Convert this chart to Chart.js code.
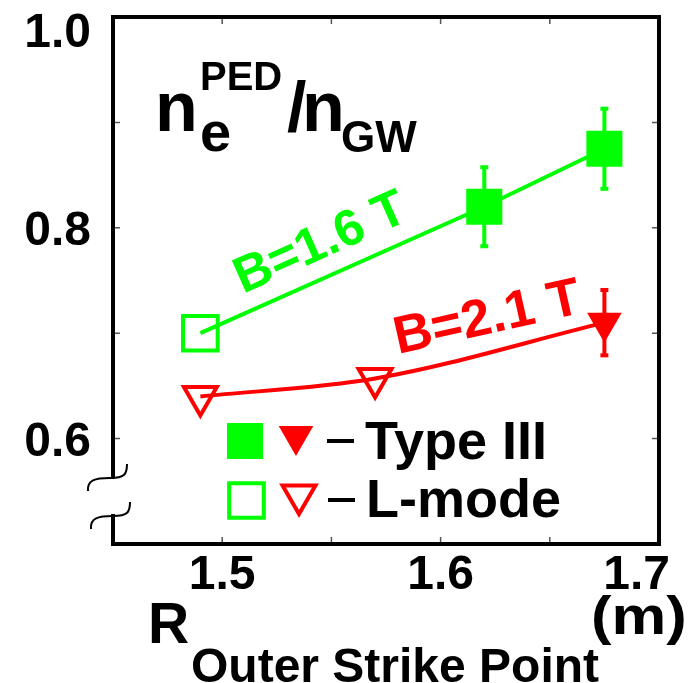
<!DOCTYPE html>
<html>
<head>
<meta charset="utf-8">
<title>Pedestal density vs outer strike point</title>
<script src="https://cdn.jsdelivr.net/npm/chart.js@4.4.0/dist/chart.umd.min.js"></script>
<style>
  html, body { margin: 0; padding: 0; background: #fff; }
  #wrap { width: 690px; height: 683px; }
</style>
</head>
<body>
<div id="wrap"><canvas id="myChart" width="690" height="683"></canvas></div>
<script>
'use strict';

// outer strike point radius (m) and pedestal density / Greenwald density
let greenTypeIIIR = [1.62, 1.675];
let greenTypeIIIN = [0.82, 0.875];
let greenTypeIIIErr = [0.0375, 0.038];
let greenLmodeR = [1.49];
let greenLmodeN = [0.70];

let redTypeIIIR = [1.675];
let redTypeIIIN = [0.71];
let redTypeIIIErr = [0.031];
let redLmodeR = [1.49, 1.57];
let redLmodeN = [0.640, 0.657];

let xTickMarks = [1.5, 1.55, 1.6, 1.65];
let xTickLabels = [1.5, 1.6, 1.7];
let yTickMarks = [0.6, 0.7, 0.8, 0.9];
let yTickLabels = [0.6, 0.8, 1.0];

let green = '#00ff00';
let red = '#ff0000';
let family = '"Liberation Sans", Arial, Helvetica, sans-serif';

function bold(size) {
    return 'bold ' + size + 'px ' + family;
}

function toPoints(xs, ys) {
    let pts = [];
    for (let i = 0; i < xs.length; i++) {
        pts.push({x: xs[i], y: ys[i]});
    }
    return pts;
}

function drawErrors(ctx, sx, sy, xs, ys, errs, color) {
    ctx.save();
    ctx.strokeStyle = color;
    ctx.fillStyle = color;
    ctx.lineWidth = 4;
    for (let i = 0; i < xs.length; i++) {
        let px = sx.getPixelForValue(xs[i]);
        let top = sy.getPixelForValue(ys[i] + errs[i]);
        let bot = sy.getPixelForValue(ys[i] - errs[i]);
        ctx.beginPath();
        ctx.moveTo(px, top);
        ctx.lineTo(px, bot);
        ctx.stroke();
        ctx.fillRect(px - 4, top - 2, 8, 4);
        ctx.fillRect(px - 4, bot - 2, 8, 4);
    }
    ctx.restore();
}

function legendMark(ctx, style, rotation, radius, x, y, color, filled) {
    ctx.save();
    ctx.fillStyle = filled ? color : 'rgba(0,0,0,0)';
    ctx.strokeStyle = color;
    ctx.lineWidth = filled ? 0 : 4;
    Chart.helpers.drawPoint(ctx, {
        pointStyle: style, rotation: rotation, radius: radius,
        borderWidth: filled ? 0 : 4
    }, x, y);
    ctx.restore();
}

let decorPlugin = {
    id: 'decor',
    beforeDatasetsDraw(chart) {
        let ctx = chart.ctx;
        drawErrors(ctx, chart.scales.x, chart.scales.y, greenTypeIIIR, greenTypeIIIN, greenTypeIIIErr, green);
        drawErrors(ctx, chart.scales.x, chart.scales.y, redTypeIIIR, redTypeIIIN, redTypeIIIErr, red);
    },
    afterDraw(chart) {
        let ctx = chart.ctx;
        let a = chart.chartArea;
        let sx = chart.scales.x;
        let sy = chart.scales.y;
        ctx.save();

        // frame
        ctx.strokeStyle = '#000';
        ctx.lineWidth = 4;
        ctx.strokeRect(a.left, a.top, a.right - a.left, a.bottom - a.top);

        // inward ticks
        ctx.strokeStyle = '#555';
        ctx.lineWidth = 1.5;
        ctx.beginPath();
        xTickMarks.forEach(v => {
            let px = sx.getPixelForValue(v);
            ctx.moveTo(px, a.bottom - 2); ctx.lineTo(px, a.bottom - 7);
            ctx.moveTo(px, a.top + 2); ctx.lineTo(px, a.top + 7);
        });
        yTickMarks.forEach(v => {
            let py = sy.getPixelForValue(v);
            ctx.moveTo(a.left + 2, py); ctx.lineTo(a.left + 7, py);
            ctx.moveTo(a.right - 2, py); ctx.lineTo(a.right - 7, py);
        });
        ctx.stroke();

        // axis break on the y axis
        ctx.fillStyle = '#fff';
        ctx.fillRect(a.left - 4, 479, 8, 35);
        ctx.strokeStyle = '#000';
        ctx.lineWidth = 2;
        [[0, 0], [3, 38]].forEach(o => {
            let dx = o[0], dy = o[1];
            ctx.beginPath();
            ctx.moveTo(88 + dx, 491 + dy);
            ctx.bezierCurveTo(87 + dx, 480 + dy, 95 + dx, 478 + dy, 110 + dx, 478 + dy);
            ctx.bezierCurveTo(125 + dx, 478 + dy, 127 + dx, 474 + dy, 127 + dx, 464 + dy);
            ctx.stroke();
        });

        // tick labels
        ctx.fillStyle = '#000';
        ctx.font = bold(48);
        ctx.textBaseline = 'alphabetic';
        ctx.textAlign = 'center';
        xTickLabels.forEach(v => {
            let txt = v.toFixed(1);
            let w = ctx.measureText(txt).width;
            let px = Math.min(sx.getPixelForValue(v), chart.width - 20 - w / 2);
            ctx.fillText(txt, px, 589);
        });
        ctx.textAlign = 'right';
        yTickLabels.forEach(v => {
            let py = Math.max(sy.getPixelForValue(v), a.top + 13);
            ctx.fillText(v.toFixed(1), 91, py + 17);
        });

        // x axis title
        ctx.textAlign = 'left';
        ctx.font = bold(57);
        ctx.fillText('R', 148, 643);
        ctx.font = bold(48);
        ctx.fillText('Outer Strike Point', 191, 682);
        ctx.save();
        ctx.font = bold(57);
        ctx.translate(591, 634);
        ctx.scale(1.08, 0.95);
        ctx.fillText('(m)', 0, 0);
        ctx.restore();

        // quantity label inside the plot
        ctx.font = bold(70);
        ctx.fillText('n', 155, 131);
        ctx.font = bold(56);
        ctx.fillText('e', 200, 151);
        ctx.font = bold(40);
        ctx.fillText('PED', 200, 90);
        ctx.font = bold(70);
        ctx.fillText('/', 287, 131);
        ctx.fillText('n', 302, 131);
        ctx.font = bold(44);
        ctx.fillText('GW', 341, 152);

        // field labels along the curves
        ctx.save();
        ctx.fillStyle = green;
        ctx.font = bold(51);
        ctx.translate(243, 294);
        ctx.rotate(-24 * Math.PI / 180);
        ctx.fillText('B=1.6 T', 0, 0);
        ctx.restore();

        ctx.save();
        ctx.fillStyle = red;
        ctx.font = bold(53);
        ctx.translate(398, 354);
        ctx.rotate(-12.6 * Math.PI / 180);
        ctx.fillText('B=2.1 T', 0, 0);
        ctx.restore();

        // legend
        legendMark(ctx, 'rect', 0, 25.5, 245, 441, green, true);
        legendMark(ctx, 'triangle', 180, 20, 296, 436, red, true);
        legendMark(ctx, 'rect', 0, 24.5, 246.5, 500.5, green, false);
        legendMark(ctx, 'triangle', 180, 19, 299, 495, red, false);
        ctx.fillStyle = '#000';
        ctx.fillRect(327, 439, 27, 4);
        ctx.fillRect(328, 498, 27, 4);
        ctx.font = bold(54);
        ctx.fillText('Type III', 365, 459);
        ctx.fillText('L-mode', 366, 517);

        ctx.restore();
    }
};

let ctx = document.getElementById('myChart').getContext('2d');

let myChart = new Chart(ctx, {
    type: 'scatter',
    data: {
        datasets: [{
            label: 'B=1.6 T Type III',
            data: toPoints(greenTypeIIIR, greenTypeIIIN),
            pointStyle: 'rect',
            pointRadius: 25.5,
            backgroundColor: green,
            borderColor: green,
            borderWidth: 0,
            order: 1
        }, {
            label: 'B=1.6 T L-mode',
            data: toPoints(greenLmodeR, greenLmodeN),
            pointStyle: 'rect',
            pointRadius: 24.5,
            backgroundColor: 'rgba(0,0,0,0)',
            borderColor: green,
            borderWidth: 4,
            order: 1
        }, {
            label: 'B=2.1 T Type III',
            data: toPoints(redTypeIIIR, redTypeIIIN),
            pointStyle: 'triangle',
            rotation: 180,
            pointRadius: 20,
            backgroundColor: red,
            borderColor: red,
            borderWidth: 0,
            order: 1
        }, {
            label: 'B=2.1 T L-mode',
            data: toPoints(redLmodeR, redLmodeN),
            pointStyle: 'triangle',
            rotation: 180,
            pointRadius: 19,
            backgroundColor: 'rgba(0,0,0,0)',
            borderColor: red,
            borderWidth: 4,
            order: 1
        }, {
            type: 'line',
            label: 'B=1.6 T',
            data: toPoints(greenLmodeR.concat(greenTypeIIIR), greenLmodeN.concat(greenTypeIIIN)),
            borderColor: green,
            borderWidth: 4,
            pointRadius: 0,
            fill: false,
            tension: 0,
            order: 2
        }, {
            type: 'line',
            label: 'B=2.1 T',
            data: toPoints(redLmodeR.concat(redTypeIIIR), redLmodeN.concat(redTypeIIIN)),
            borderColor: red,
            borderWidth: 4,
            pointRadius: 0,
            fill: false,
            cubicInterpolationMode: 'monotone',
            order: 2
        }]
    },
    options: {
        responsive: false,
        animation: false,
        events: [],
        layout: {
            autoPadding: false,
            padding: {left: 113, top: 17, right: 31, bottom: 139}
        },
        plugins: {
            legend: {display: false},
            tooltip: {enabled: false}
        },
        scales: {
            x: {type: 'linear', min: 1.45, max: 1.70, display: false},
            y: {type: 'linear', min: 0.5, max: 1.0, display: false}
        }
    },
    plugins: [decorPlugin]
});
</script>
</body>
</html>
